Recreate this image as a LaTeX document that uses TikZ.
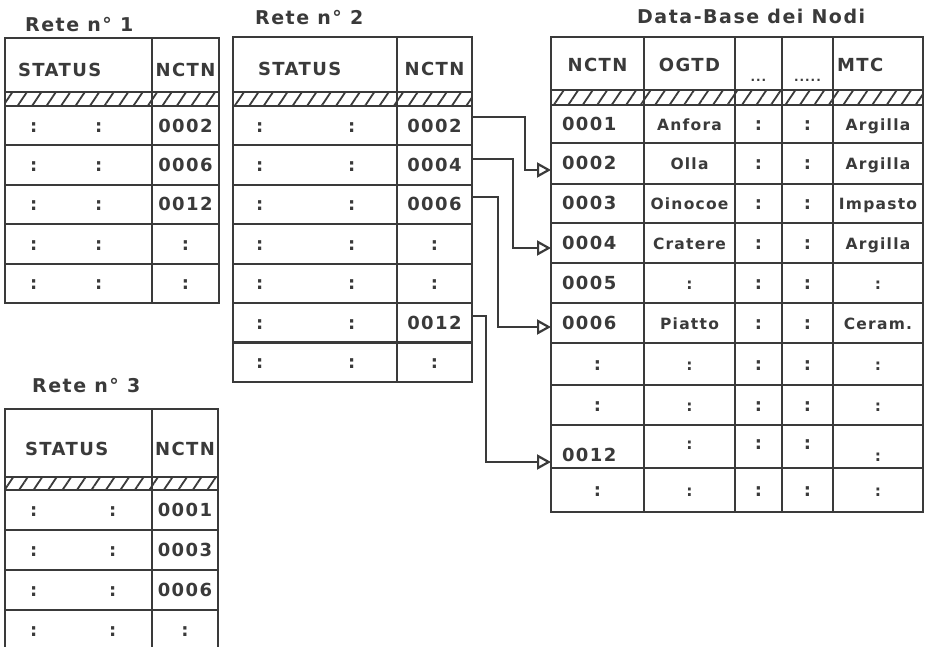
\documentclass[tikz,border=0pt]{standalone}
\usepackage{fontspec}
\usepackage{xcolor}
\usepackage{tikz}
\usetikzlibrary{arrows.meta,positioning,patterns.meta}

\newfontfamily\gridfont[LetterSpace=8]{DejaVu Sans}
\definecolor{ink}{HTML}{3A3A3A}

\begin{document}
\begin{tikzpicture}[x=1pt, y=-1pt,
    cell/.style={rectangle, draw=ink, line width=2.2pt, anchor=north west, inner sep=0pt, outer sep=0pt, text=ink, text height=13pt, text depth=0pt, font=\gridfont\bfseries\fontsize{18}{20}\selectfont},
    word/.style={font=\gridfont\bfseries\fontsize{15.5}{17}\selectfont},
    hatch/.style={cell, pattern={Lines[angle=56, distance=12pt, line width=1.8pt]}, pattern color=ink},
    title/.style={anchor=base west, inner sep=0pt, text=ink, font=\gridfont\bfseries\fontsize{19}{21}\selectfont},
    link/.style={draw=ink, line width=2.2pt, -{Triangle[open, length=14pt, width=15pt]}}
]
    \useasboundingbox (0,0) rectangle (926,647);

    % Rete n. 1
    \node[title] (t1title) at (25,32) {Rete n° 1};
    \node[cell, minimum width=147pt, minimum height=54pt, text width=121pt, align=left] (t1shead) at (5,38) {\raisebox{-5pt}{STATUS}};
    \node[cell, minimum width=67pt, minimum height=54pt] (t1nhead) at (152,38) {\raisebox{-5pt}{NCTN}};
    \node[hatch, minimum width=147pt, minimum height=14pt] (t1shatch) at (5,92) {};
    \node[hatch, minimum width=67pt, minimum height=14pt] (t1nhatch) at (152,92) {};
    \foreach \val [count=\r] in {0002,0006,0012,:,:} {
        \node[cell, minimum width=147pt, minimum height=39.4pt, text width=97pt, align=left] (t1s\r) at (5,{106+39.4*(\r-1)}) {:\hspace{58pt}:};
        \node[cell, minimum width=67pt, minimum height=39.4pt] (t1n\r) at (152,{106+39.4*(\r-1)}) {\val};
    }

    % Rete n. 2
    \node[title] (t2title) at (255,25) {Rete n° 2};
    \node[cell, minimum width=164pt, minimum height=55pt, text width=114pt, align=left] (t2shead) at (233,37) {\raisebox{-5pt}{STATUS}};
    \node[cell, minimum width=75pt, minimum height=55pt] (t2nhead) at (397,37) {\raisebox{-5pt}{NCTN}};
    \node[hatch, minimum width=164pt, minimum height=14pt] (t2shatch) at (233,92) {};
    \node[hatch, minimum width=75pt, minimum height=14pt] (t2nhatch) at (397,92) {};
    \foreach \val [count=\r] in {0002,0004,0006,:,:,0012,:} {
        \node[cell, minimum width=164pt, minimum height=39.4pt, text width=118pt, align=left] (t2s\r) at (233,{106+39.4*(\r-1)}) {:\hspace{85pt}:};
        \node[cell, minimum width=75pt, minimum height=39.4pt] (t2n\r) at (397,{106+39.4*(\r-1)}) {\val};
    }

    % Rete n. 3
    \node[title] (t3title) at (32,392) {Rete n° 3};
    \node[cell, minimum width=147pt, minimum height=68pt, text width=107pt, align=left] (t3shead) at (5,409) {\raisebox{-6pt}{STATUS}};
    \node[cell, minimum width=66pt, minimum height=68pt] (t3nhead) at (152,409) {\raisebox{-6pt}{NCTN}};
    \node[hatch, minimum width=147pt, minimum height=13pt] (t3shatch) at (5,477) {};
    \node[hatch, minimum width=66pt, minimum height=13pt] (t3nhatch) at (152,477) {};
    \foreach \val [count=\r] in {0001,0003,0006,:} {
        \node[cell, minimum width=147pt, minimum height=40pt, text width=97pt, align=left] (t3s\r) at (5,{490+40*(\r-1)}) {:\hspace{72pt}:};
        \node[cell, minimum width=66pt, minimum height=40pt] (t3n\r) at (152,{490+40*(\r-1)}) {\val};
    }

    % Data-Base dei Nodi
    \node[title] (dbtitle) at (637,24) {Data-Base dei Nodi};
    \node[cell, minimum width=93pt, minimum height=53pt] (dbh1) at (551,37) {\raisebox{-2pt}{NCTN}};
    \node[cell, minimum width=91pt, minimum height=53pt] (dbh2) at (644,37) {\raisebox{-2pt}{OGTD}};
    \node[cell, minimum width=47pt, minimum height=53pt, font=\gridfont\bfseries\fontsize{12}{13}\selectfont] (dbh3) at (735,37) {\raisebox{-12pt}{...}};
    \node[cell, minimum width=51pt, minimum height=53pt, font=\gridfont\bfseries\fontsize{12}{13}\selectfont] (dbh4) at (782,37) {\raisebox{-12pt}{.....}};
    \node[cell, minimum width=90pt, minimum height=53pt, text width=82pt, align=left] (dbh5) at (833,37) {\raisebox{-2pt}{MTC}};
    \node[hatch, minimum width=93pt, minimum height=15pt] (dbhatch1) at (551,90) {};
    \node[hatch, minimum width=91pt, minimum height=15pt] (dbhatch2) at (644,90) {};
    \node[hatch, minimum width=47pt, minimum height=15pt] (dbhatch3) at (735,90) {};
    \node[hatch, minimum width=51pt, minimum height=15pt] (dbhatch4) at (782,90) {};
    \node[hatch, minimum width=90pt, minimum height=15pt] (dbhatch5) at (833,90) {};
    \foreach \top/\h/\id/\obj/\mid/\mat [count=\r] in {
        105/38/0001/Anfora/:/Argilla,
        143/41/0002/Olla\hspace{32pt}/:/Argilla,
        184/39/0003/Oinocoe/:/Impasto,
        223/40/0004/Cratere/:/Argilla,
        263/40/0005/:/:/:,
        303/40/0006/Piatto/:/Ceram.,
        343/42/\hfill:\hspace*{\fill}/:/:/:,
        385/40/\hfill:\hspace*{\fill}/:/:/:,
        425/43/\raisebox{-8pt}{0012}/\raisebox{4pt}{:}/\raisebox{4pt}{:}/\raisebox{-8pt}{:},
        468/44/\hfill:\hspace*{\fill}/:/:/:} {
        \node[cell, minimum width=93pt, minimum height=\h pt, text width=71pt, align=left] (db\r) at (551,\top) {\id};
        \node[cell, word, minimum width=91pt, minimum height=\h pt] (dbo\r) at (644,\top) {\obj};
        \node[cell, minimum width=47pt, minimum height=\h pt] (dbx\r) at (735,\top) {\mid};
        \node[cell, minimum width=51pt, minimum height=\h pt] (dby\r) at (782,\top) {\mid};
        \node[cell, word, minimum width=90pt, minimum height=\h pt] (dbm\r) at (833,\top) {\mat};
    }

    % Connections
    \draw[link] ([yshift=8.5pt]t2n1.east) -- ++(53,0) |- ([yshift=-6.5pt]db2.west);
    \draw[link] ([yshift=6pt]t2n2.east) -- ++(41,0) |- ([yshift=-5pt]db4.west);
    \draw[link] ([yshift=7.5pt]t2n3.east) -- ++(26,0) |- ([yshift=-4pt]db6.west);
    \draw[link] ([yshift=6.5pt]t2n6.east) -- ++(14,0) |- ([yshift=-15.5pt]db9.west);

\end{tikzpicture}
\end{document}
